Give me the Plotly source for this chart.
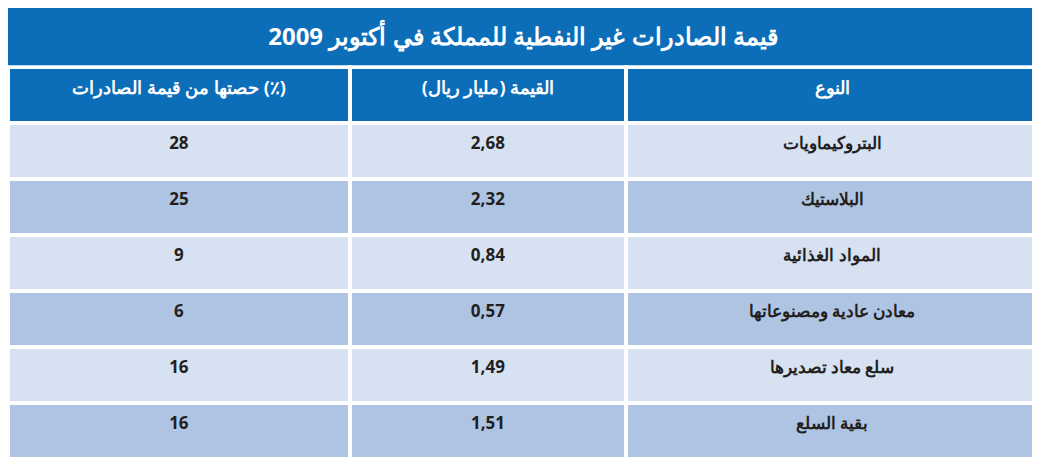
import plotly.graph_objects as go

title = "قيمة الصادرات غير النفطية للمملكة في أكتوبر 2009"
headers = ["حصتها من قيمة الصادرات (٪)", "القيمة (مليار ريال)", "النوع"]
categories = ["البتروكيماويات", "البلاستيك", "المواد الغذائية", "معادن عادية ومصنوعاتها", "سلع معاد تصديرها", "بقية السلع"]
values_bn = [2.68, 2.32, 0.84, 0.57, 1.49, 1.51]
shares = [28, 25, 9, 6, 16, 16]

light, dark = "#D6E1F1", "#AFC4E3"
row_colors = [light if i % 2 == 0 else dark for i in range(len(categories))]

fig = go.Figure(go.Table(
    domain=dict(x=[0, 1], y=[0, 0.87]),
    columnwidth=[342, 276, 412],
    header=dict(
        values=[f"<b>{h}</b>" for h in headers],
        fill_color="#0C6DB8", line=dict(color="white", width=4),
        font=dict(family="Noto Sans", size=18, color="white"),
        align="center", height=56),
    cells=dict(
        values=[[f"<b>{s}</b>" for s in shares],
                [f"<b>{v:.2f}</b>".replace(".", ",") for v in values_bn],
                [f"<b>{c}</b>" for c in categories]],
        fill_color=[row_colors] * 3, line=dict(color="white", width=4),
        font=dict(family="Noto Sans", size=17, color="#231F20"),
        align="center", height=56),
))
fig.add_shape(type="rect", xref="paper", yref="paper", x0=0, x1=1, y0=0.873, y1=1.0,
              fillcolor="#0C6DB8", line_width=0, layer="below")
fig.update_layout(
    title=dict(text=f"<b>{title}</b>", x=0.5, xanchor="center", y=0.937, yanchor="middle",
               yref="container", font=dict(family="Noto Sans", size=24, color="white")),
    width=1030, height=456, margin=dict(l=0, r=0, t=0, b=0),
    paper_bgcolor="white", plot_bgcolor="white")
fig.write_html("out.html")
